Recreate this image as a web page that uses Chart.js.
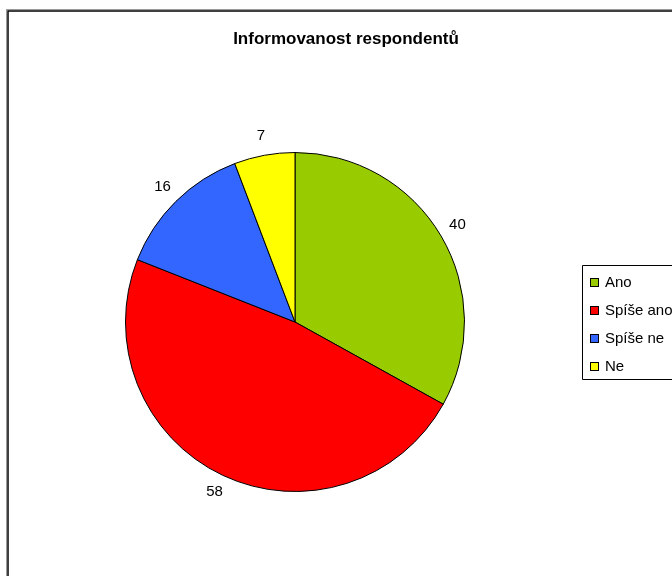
<!DOCTYPE html>
<html>
<head>
<meta charset="utf-8">
<script src="https://cdn.jsdelivr.net/npm/chart.js@4/dist/chart.umd.min.js"></script>
<style>
  html, body { margin: 0; padding: 0; background: #fff; }
  #wrap { width: 672px; height: 576px; position: relative; }
</style>
</head>
<body>
<div id="wrap"><canvas id="c" width="672" height="576"></canvas></div>
<script>
const titleText = 'Informovanost respondentů';
const categories = ['Ano', 'Spíše ano', 'Spíše ne', 'Ne'];
const counts = [40, 58, 16, 7];
const sliceColors = ['#99CC00', '#FF0000', '#3366FF', '#FFFF00'];

const FONT = '"Liberation Sans", Arial, sans-serif';

// Frame, title and boxed legend drawn around the pie
const decorPlugin = {
  id: 'decor',
  beforeDraw(chart) {
    const ctx = chart.ctx;
    ctx.save();
    ctx.fillStyle = '#fff';
    ctx.fillRect(0, 0, chart.width, chart.height);
    // gray shadow line then black frame
    ctx.strokeStyle = '#9a9a9a';
    ctx.lineWidth = 1;
    ctx.strokeRect(6.5, 9.5, 700, 600);
    ctx.strokeStyle = '#000';
    ctx.lineWidth = 1.5;
    ctx.strokeRect(8, 11, 700, 600);
    ctx.restore();
  },
  afterDraw(chart) {
    const ctx = chart.ctx;
    ctx.save();
    // title
    ctx.fillStyle = '#000';
    ctx.font = 'bold 17px ' + FONT;
    ctx.textAlign = 'center';
    ctx.textBaseline = 'middle';
    ctx.fillText(titleText, 346, 39);

    // value labels outside each slice
    const meta = chart.getDatasetMeta(0);
    ctx.font = '15px ' + FONT;
    meta.data.forEach((arc, i) => {
      const p = arc.getProps(['x', 'y', 'startAngle', 'endAngle', 'outerRadius'], true);
      const mid = (p.startAngle + p.endAngle) / 2;
      const r = p.outerRadius + 19;
      ctx.fillText(String(counts[i]), p.x + Math.cos(mid) * r, p.y + Math.sin(mid) * r - 1);
    });

    // legend box
    const lx = 582.5, ly = 265.5, lh = 114;
    ctx.strokeStyle = '#000';
    ctx.lineWidth = 1;
    ctx.beginPath();
    ctx.moveTo(700, ly);
    ctx.lineTo(lx, ly);
    ctx.lineTo(lx, ly + lh);
    ctx.lineTo(700, ly + lh);
    ctx.stroke();
    ctx.textAlign = 'left';
    ctx.font = '15px ' + FONT;
    categories.forEach((name, i) => {
      const cy = 282 + i * 28;
      ctx.fillStyle = sliceColors[i];
      ctx.fillRect(590, cy - 4, 9, 9);
      ctx.strokeStyle = '#000';
      ctx.strokeRect(590.5, cy - 3.5, 8, 8);
      ctx.fillStyle = '#000';
      ctx.fillText(name, 605, cy + 1);
    });
    ctx.restore();
  }
};

new Chart(document.getElementById('c'), {
  type: 'pie',
  data: {
    labels: categories,
    datasets: [{
      data: counts,
      backgroundColor: sliceColors,
      borderColor: '#000',
      borderWidth: 1
    }]
  },
  options: {
    responsive: false,
    animation: false,
    layout: { padding: { left: 125, right: 207, top: 152, bottom: 84 } },
    plugins: {
      legend: { display: false },
      title: { display: false },
      tooltip: { enabled: false }
    }
  },
  plugins: [decorPlugin]
});
</script>
</body>
</html>
